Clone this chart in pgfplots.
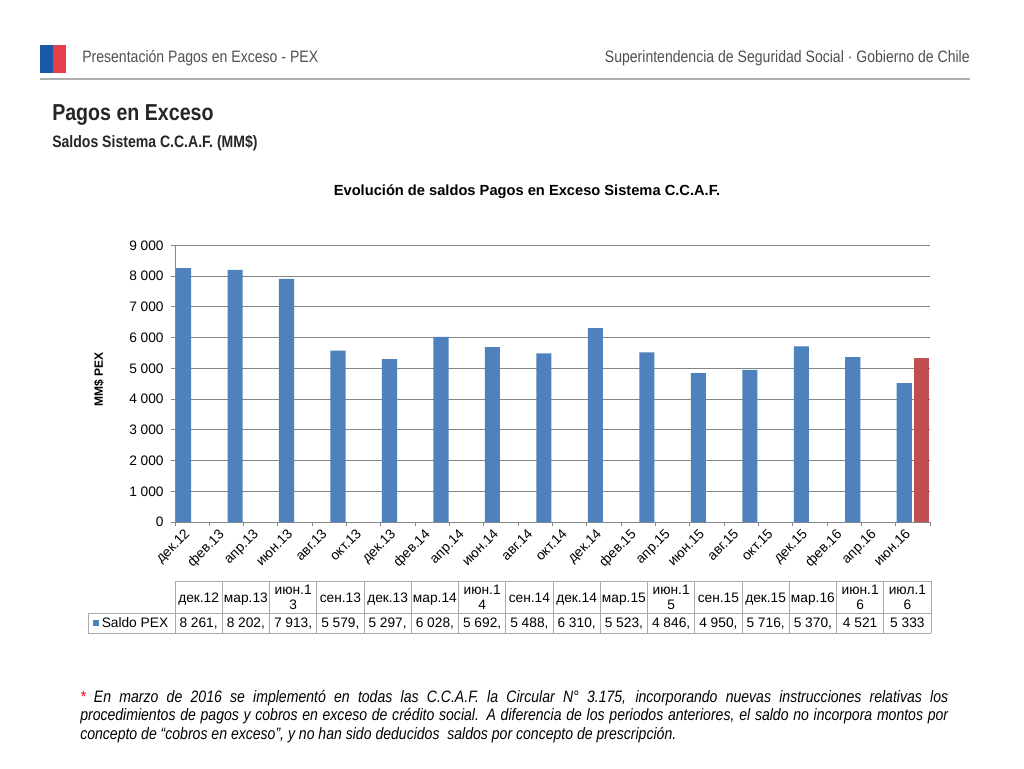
\documentclass[border=0pt]{standalone}
\usepackage{pgfplots}
\pgfplotsset{compat=1.18}
\usepackage{fontspec}
\setmainfont{Liberation Sans}
\newfontfamily\narrowfont[FakeStretch=0.85]{Liberation Sans}
\definecolor{pexblue}{HTML}{4F81BD}
\definecolor{pexred}{HTML}{C0504D}
\definecolor{gridgray}{RGB}{134,134,134}
\definecolor{tablegray}{RGB}{170,170,170}
\definecolor{headgray}{RGB}{80,80,80}
\definecolor{linegray}{RGB}{175,175,175}
\definecolor{flagblue}{RGB}{28,88,168}
\definecolor{flagred}{RGB}{232,62,74}
\newcommand\hcell[2]{\node[anchor=base, inner sep=0pt] at ({175+47.25*(#1+0.5)},602.8) {#2};}
\newcommand\hcellii[3]{\node[anchor=base, inner sep=0pt] at ({175+47.25*(#1+0.5)},594.8) {#2};
  \node[anchor=base, inner sep=0pt] at ({175+47.25*(#1+0.5)},609.8) {#3};}
\newcommand\dcell[2]{\node[anchor=base, inner sep=0pt] at ({175+47.25*(#1+0.5)},627.5) {#2};}
\begin{document}
\begin{tikzpicture}
\useasboundingbox (0,0) rectangle (768pt,576pt);
\fill[white] (0,0) rectangle (768pt,576pt);
\begin{axis}[
  at={(131.25pt,184.5pt)}, anchor=south west,
  scale only axis, width=566.25pt, height=207.4pt,
  xmin=0, xmax=44, ymin=0, ymax=9000,
  axis x line*=bottom, axis y line*=left,
  axis line style={draw=gridgray, line width=0.75pt},
  ymajorgrids, grid style={draw=gridgray, line width=0.75pt},
  ytick={0,1000,...,9000},
  /pgf/number format/assume math mode=true,
  /pgf/number format/1000 sep={\ },
  yticklabel style={font=\fontsize{10.3}{12}\selectfont, xshift=-2pt},
  tick align=outside, major tick length=3pt,
  tick style={draw=gridgray, line width=0.75pt},
  xtick={0,2,...,44},
  xticklabels={дек.12,фев.13,апр.13,июн.13,авг.13,окт.13,дек.13,фев.14,апр.14,июн.14,авг.14,окт.14,дек.14,фев.15,апр.15,июн.15,авг.15,окт.15,дек.15,фев.16,апр.16,июн.16,{}},
  xticklabel style={font=\fontsize{10.3}{12}\selectfont, xshift=6.4pt, rotate=45, anchor=north east, inner sep=1pt},
  ylabel={MM\$ PEX},
  ylabel style={font=\bfseries\fontsize{9}{11}\selectfont, at={(axis description cs:-0.1007,0.514)}, anchor=center},
  clip=false,
]
\addplot[ybar, bar width=0.88, bar shift=0, fill=pexblue, draw=none] coordinates {
  (0.5,8261) (3.5,8202) (6.5,7913) (9.5,5579) (12.5,5297) (15.5,6028) (18.5,5692) (21.5,5488)
  (24.5,6310) (27.5,5523) (30.5,4846) (33.5,4950) (36.5,5716) (39.5,5370) (42.5,4521)
};
\addplot[ybar, bar width=0.88, bar shift=0, fill=pexred, draw=none] coordinates {
  (43.5,5333)
};
\end{axis}
\begin{scope}[x=0.75pt, y=-0.75pt, shift={(0,576pt)}]
  % header
  \fill[flagblue] (40,45) rectangle (53,73);
  \fill[flagred] (53,45) rectangle (66,73);
  \node[anchor=base west, inner sep=0pt, text=headgray, font=\narrowfont\fontsize{12.4}{14}\selectfont] at (82,63) {Presentación Pagos en Exceso - PEX};
  \node[anchor=base east, inner sep=0pt, text=headgray, font=\narrowfont\fontsize{12.4}{14}\selectfont] at (970,63) {Superintendencia de Seguridad Social · Gobierno de Chile};
  \draw[linegray, line width=1.5pt] (40,79) -- (970,79);
  \node[anchor=base west, inner sep=0pt, text=black!85, font=\narrowfont\bfseries\fontsize{17.3}{20}\selectfont] at (52,121) {Pagos en Exceso};
  \node[anchor=base west, inner sep=0pt, text=black!85, font=\narrowfont\bfseries\fontsize{12.4}{14}\selectfont] at (52,148) {Saldos Sistema C.C.A.F. (MM\$)};
  % chart title
  \node[anchor=base, inner sep=0pt, font=\bfseries\fontsize{11}{13}\selectfont] at (527,196) {Evolución de saldos Pagos en Exceso Sistema C.C.A.F.};
  % data table
  \begin{scope}[tablegray, line width=0.75pt]
    \draw (175,581) -- (931,581);
    \draw (88,613) -- (931,613);
    \draw (88,633) -- (931,633);
    \draw (88,613) -- (88,633);
    \foreach \k in {0,...,16} { \draw ({175+\k*47.25},581) -- ({175+\k*47.25},633); }
  \end{scope}
  \begin{scope}[font=\fontsize{10.3}{12}\selectfont]
    \hcell{0}{дек.12}
    \hcell{1}{мар.13}
    \hcellii{2}{июн.1}{3}
    \hcell{3}{сен.13}
    \hcell{4}{дек.13}
    \hcell{5}{мар.14}
    \hcellii{6}{июн.1}{4}
    \hcell{7}{сен.14}
    \hcell{8}{дек.14}
    \hcell{9}{мар.15}
    \hcellii{10}{июн.1}{5}
    \hcell{11}{сен.15}
    \hcell{12}{дек.15}
    \hcell{13}{мар.16}
    \hcellii{14}{июн.1}{6}
    \hcellii{15}{июл.1}{6}
    \fill[pexblue] (92.5,619.5) rectangle (98.5,625.5);
    \node[anchor=base west, inner sep=0pt] at (101.5,627.5) {Saldo PEX};
    \dcell{0}{8 261,}
    \dcell{1}{8 202,}
    \dcell{2}{7 913,}
    \dcell{3}{5 579,}
    \dcell{4}{5 297,}
    \dcell{5}{6 028,}
    \dcell{6}{5 692,}
    \dcell{7}{5 488,}
    \dcell{8}{6 310,}
    \dcell{9}{5 523,}
    \dcell{10}{4 846,}
    \dcell{11}{4 950,}
    \dcell{12}{5 716,}
    \dcell{13}{5 370,}
    \dcell{14}{4 521}
    \dcell{15}{5 333}
  \end{scope}
  % footnote
  \begin{scope}[font=\narrowfont\itshape\fontsize{12.4}{14}\selectfont]
    \node[anchor=base west, inner sep=0pt] at (80,702) {\makebox[651pt][s]{\textcolor{red}{*} En marzo de 2016 se implementó en todas las C.C.A.F. la Circular N° 3.175, incorporando nuevas instrucciones relativas los}};
    \node[anchor=base west, inner sep=0pt] at (80,720.5) {\makebox[651pt][s]{procedimientos de pagos y cobros en exceso de crédito social. A diferencia de los periodos anteriores, el saldo no incorpora montos por}};
    \node[anchor=base west, inner sep=0pt] at (80,739) {concepto de “cobros en exceso”, y no han sido deducidos\ \ saldos por concepto de prescripción.};
  \end{scope}
\end{scope}
\end{tikzpicture}
\end{document}
